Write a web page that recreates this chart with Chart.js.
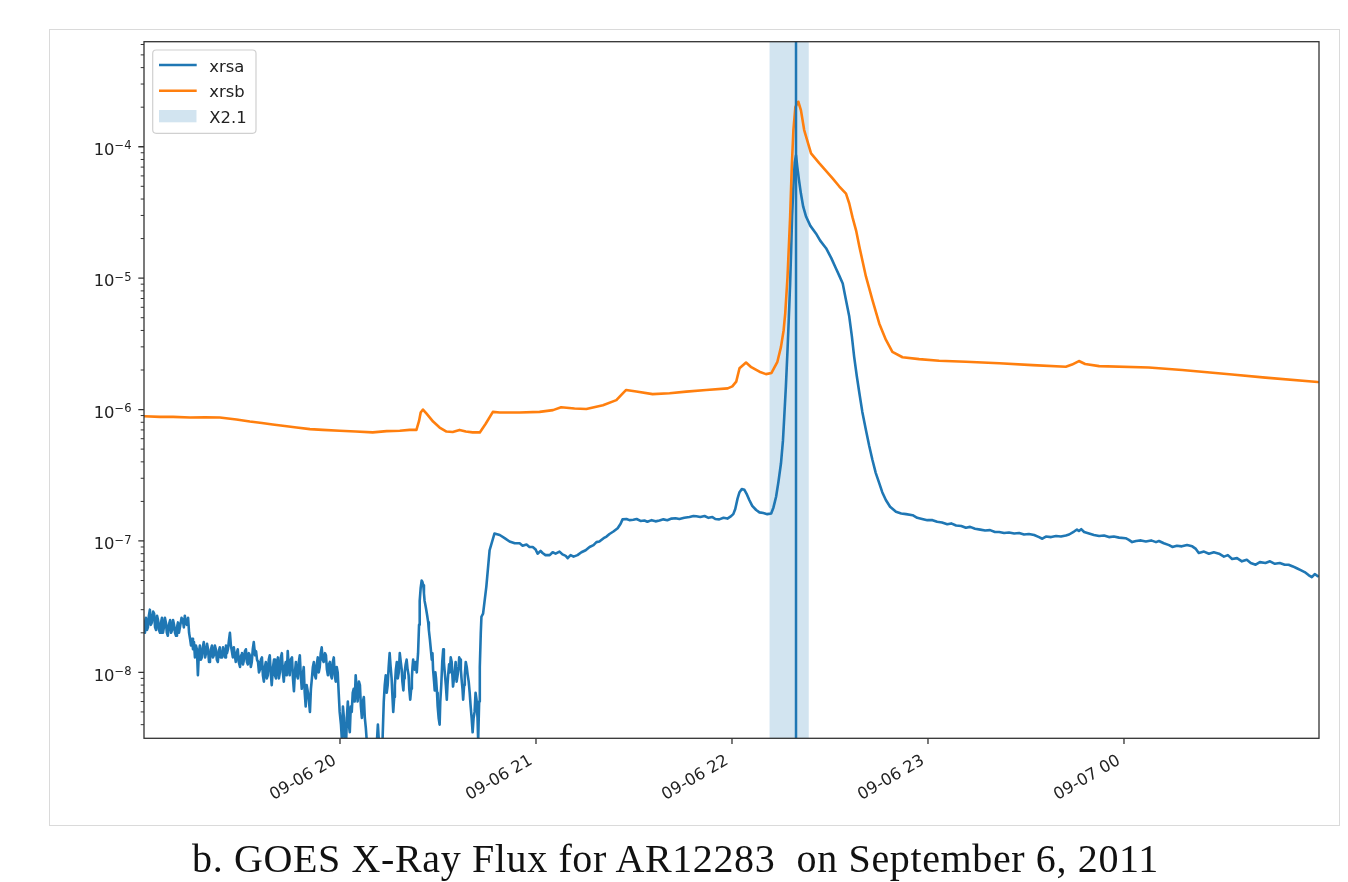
<!DOCTYPE html>
<html>
<head>
<meta charset="utf-8">
<title>GOES X-Ray Flux</title>
<script src="https://cdn.jsdelivr.net/npm/chart.js@4.4.1/dist/chart.umd.min.js"></script>
<style>
  body { margin: 0; background: #fff; }
  #wrap { position: relative; width: 1348px; height: 882px; overflow: hidden; }
  #frame { position: absolute; left: 49px; top: 29px; width: 1289px; height: 795px; border: 1px solid #dadada; }
  #myChart { position: absolute; left: 0; top: 0; }
  #caption { position: absolute; left: 192px; top: 839px; font: 40px "Liberation Serif", serif; line-height: 40px; color: #111; white-space: pre; }
</style>
</head>
<body>
<div id="wrap">
  <div id="frame"></div>
  <canvas id="myChart" width="1348" height="882"></canvas>
  <span id="caption">b. GOES X-Ray Flux for AR12283  on September 6, 2011</span>
</div>
<script>
// times are minutes after 2011-09-06 19:00 UT, flux in W/m^2
var xrsaMin = [
  0.0, 0.3, 0.6, 0.9, 1.2, 1.5, 1.8, 2.1, 2.4, 2.8,
  3.1, 3.4, 3.7, 4.0, 4.3, 4.6, 4.9, 5.2, 5.5, 5.8,
  6.1, 6.4, 6.7, 7.0, 7.3, 7.6, 8.0, 8.3, 8.6, 8.9,
  9.2, 9.5, 9.8, 10.1, 10.4, 10.7, 11.0, 11.5, 11.9, 12.2,
  12.5, 12.8, 13.1, 13.5, 13.8, 14.1, 14.4, 14.7, 15.0, 15.3,
  15.6, 15.9, 16.2, 16.5, 16.8, 17.1, 17.4, 17.7, 18.0, 18.3,
  18.7, 19.0, 19.3, 19.6, 19.9, 20.2, 20.5, 20.8, 21.1, 21.4,
  21.7, 22.0, 22.3, 22.6, 22.9, 23.2, 23.5, 23.9, 24.2, 24.5,
  24.8, 25.1, 25.4, 25.7, 26.0, 26.3, 26.6, 26.9, 27.2, 27.5,
  27.8, 28.1, 28.4, 28.7, 29.0, 29.4, 29.7, 30.0, 30.3, 30.6,
  30.9, 31.2, 31.5, 31.8, 32.1, 32.4, 32.7, 33.0, 33.3, 33.6,
  34.0, 34.3, 34.6, 34.9, 35.2, 35.5, 35.8, 36.1, 36.4, 36.7,
  37.0, 37.3, 37.6, 37.9, 38.2, 38.5, 38.8, 39.1, 39.5, 39.8,
  40.1, 40.4, 40.7, 41.0, 41.3, 41.6, 41.9, 42.2, 42.5, 42.8,
  43.1, 43.4, 43.7, 44.0, 44.3, 44.6, 44.9, 45.3, 45.6, 45.9,
  46.2, 46.5, 46.8, 47.1, 47.4, 47.7, 48.0, 48.3, 48.6, 48.9,
  49.2, 49.5, 49.8, 50.2, 50.5, 50.8, 51.1, 51.4, 51.7, 52.0,
  52.3, 52.6, 52.9, 53.2, 53.5, 53.8, 54.1, 54.4, 54.7, 55.0,
  55.4, 55.7, 56.0, 56.3, 56.6, 56.9, 57.2, 57.5, 57.8, 58.1,
  58.4, 58.7, 59.0, 59.3, 59.6, 59.9, 60.3, 60.6, 60.9, 61.2,
  61.5, 61.8, 62.1, 62.4, 62.7, 63.0, 63.3, 63.6, 63.9, 64.2,
  64.5, 64.8, 65.1, 65.4, 65.8, 66.1, 66.4, 66.7, 67.0, 67.3,
  67.6, 67.9, 68.2, 68.5, 68.8, 69.1, 69.7, 70.3, 70.9, 71.3,
  71.6, 71.9, 72.2, 72.8, 73.1, 73.4, 73.7, 74.0, 74.3, 74.6,
  74.9, 75.2, 75.5, 75.8, 76.0, 76.3, 76.6, 76.8, 77.1, 77.4,
  77.7, 78.0, 78.3, 78.6, 78.9, 79.1, 79.4, 79.6, 79.8, 80.1,
  80.4, 80.7, 81.0, 81.2, 81.5, 81.8, 82.0, 82.2, 82.4, 82.7,
  82.9, 83.2, 83.5, 83.7, 83.9, 84.2, 84.4, 84.7, 85.0, 85.2,
  85.5, 85.7, 85.9, 86.2, 86.4, 86.7, 87.0, 87.2, 87.5, 87.8,
  88.1, 88.3, 88.5, 88.8, 89.0, 89.2, 89.4, 89.7, 89.9, 90.2,
  90.5, 90.7, 91.0, 91.3, 91.6, 91.8, 92.0, 92.4, 92.7, 92.9,
  93.1, 93.4, 93.6, 93.9, 94.2, 94.4, 94.6, 94.9, 95.1, 95.4,
  95.7, 96.0, 96.3, 96.5, 96.8, 97.0, 97.2, 97.5, 97.7, 98.0,
  98.2, 98.5, 98.8, 99.1, 99.4, 99.7, 100.0, 100.3, 100.6, 100.9,
  101.2, 101.5, 101.8, 102.1, 102.3, 102.6, 102.8, 103.1, 103.3, 103.8,
  104.8, 105.8, 107.3, 108.9, 110.4, 111.9, 113.5, 115.0, 115.9, 117.1,
  118.0, 119.0, 119.9, 120.5, 121.4, 122.0, 122.9, 124.2, 125.1, 126.0,
  127.2, 128.1, 129.1, 129.7, 130.6, 131.5, 132.7, 133.9, 135.2, 136.4,
  137.6, 138.5, 139.4, 140.7, 141.6, 142.5, 143.7, 145.0, 145.9, 146.5,
  147.7, 148.6, 149.8, 150.8, 152.0, 153.2, 154.1, 155.4, 156.6, 157.8,
  159.0, 160.2, 161.5, 162.7, 163.9, 165.4, 167.0, 168.2, 169.1, 170.3,
  171.6, 172.8, 174.0, 174.9, 176.1, 177.4, 178.6, 179.5, 180.4, 181.0,
  181.7, 182.3, 183.0, 183.8, 184.6, 185.3, 186.2, 187.4, 188.4, 189.6,
  190.8, 192.0, 192.7, 193.5, 194.2, 195.0, 195.6, 196.0, 196.5, 197.0,
  197.4, 197.8, 198.1, 198.4, 198.8, 199.2, 199.6, 200.0, 200.5, 201.1,
  201.8, 202.7, 204.0, 205.7, 207.0, 208.8, 210.4, 211.8, 212.8, 213.9,
  214.8, 215.9, 216.7, 217.4, 218.2, 219.0, 219.9, 221.0, 222.0, 223.0,
  224.0, 225.1, 226.0, 227.1, 228.4, 230.2, 231.8, 233.3, 235.3, 236.7,
  238.2, 239.8, 241.4, 242.8, 244.3, 245.9, 247.1, 248.6, 250.2, 251.6,
  252.9, 254.4, 256.0, 257.5, 259.0, 260.5, 261.8, 263.3, 264.8, 266.4,
  267.9, 269.4, 270.9, 272.5, 274.0, 275.0, 276.1, 277.7, 279.2, 280.7,
  282.2, 283.2, 284.7, 285.6, 286.2, 286.9, 287.8, 289.3, 290.8, 292.4,
  293.9, 295.4, 296.9, 298.5, 300.5, 301.5, 302.5, 303.7, 305.2, 306.7,
  308.3, 309.8, 310.7, 312.2, 313.8, 314.8, 316.2, 317.7, 319.3, 320.9,
  322.0, 322.9, 324.5, 326.0, 327.5, 329.1, 330.6, 331.8, 333.1, 334.6,
  336.1, 337.6, 338.8, 340.3, 341.6, 343.3, 344.7, 346.2, 347.7, 349.2,
  350.4, 351.7, 352.9, 354.1, 355.3, 356.5, 357.5, 358.4, 359.3
];
var xrsaFlux = [
  2.0e-8, 2.4e-8, 2.6e-8, 2.1e-8, 2.2e-8, 2.7e-8, 3.0e-8, 2.3e-8, 2.4e-8, 2.9e-8,
  2.8e-8, 2.2e-8, 2.1e-8, 2.7e-8, 2.5e-8, 2.1e-8, 2.0e-8, 2.4e-8, 2.6e-8, 2.0e-8,
  2.2e-8, 2.6e-8, 2.4e-8, 2.0e-8, 1.9e-8, 2.3e-8, 2.5e-8, 2.0e-8, 2.1e-8, 2.5e-8,
  2.3e-8, 2.0e-8, 1.9e-8, 2.2e-8, 2.4e-8, 2.0e-8, 2.2e-8, 2.6e-8, 2.5e-8, 2.2e-8,
  2.7e-8, 2.4e-8, 2.3e-8, 2.6e-8, 2.0e-8, 1.8e-8, 1.6e-8, 1.8e-8, 1.5e-8, 1.7e-8,
  1.3e-8, 1.6e-8, 1.5e-8, 0.95e-8, 1.4e-8, 1.6e-8, 1.25e-8, 1.3e-8, 1.55e-8, 1.7e-8,
  1.3e-8, 1.4e-8, 1.65e-8, 1.5e-8, 1.2e-8, 1.25e-8, 1.5e-8, 1.6e-8, 1.3e-8, 1.35e-8,
  1.6e-8, 1.5e-8, 1.25e-8, 1.2e-8, 1.45e-8, 1.55e-8, 1.3e-8, 1.3e-8, 1.55e-8, 1.45e-8,
  1.3e-8, 1.6e-8, 1.4e-8, 1.5e-8, 1.75e-8, 2.0e-8, 1.6e-8, 1.45e-8, 1.3e-8, 1.55e-8,
  1.35e-8, 1.2e-8, 1.4e-8, 1.5e-8, 1.2e-8, 1.1e-8, 1.35e-8, 1.4e-8, 1.15e-8, 1.25e-8,
  1.45e-8, 1.5e-8, 1.2e-8, 1.15e-8, 1.4e-8, 1.35e-8, 1.1e-8, 1.2e-8, 1.5e-8, 1.7e-8,
  1.35e-8, 1.45e-8, 1.25e-8, 1.2e-8, 1.0e-8, 1.05e-8, 1.25e-8, 1.3e-8, 0.95e-8, 0.85e-8,
  1.1e-8, 1.2e-8, 0.9e-8, 0.95e-8, 1.25e-8, 1.35e-8, 1.0e-8, 0.8e-8, 1.1e-8, 1.25e-8,
  0.95e-8, 0.9e-8, 1.2e-8, 1.3e-8, 0.9e-8, 1.0e-8, 1.3e-8, 1.4e-8, 1.0e-8, 0.85e-8,
  1.1e-8, 1.2e-8, 0.95e-8, 1.45e-8, 1.1e-8, 0.95e-8, 1.25e-8, 1.3e-8, 0.9e-8, 0.72e-8,
  1.0e-8, 1.2e-8, 0.95e-8, 0.9e-8, 1.2e-8, 1.35e-8, 0.95e-8, 0.75e-8, 0.95e-8, 1.1e-8,
  0.7e-8, 0.55e-8, 0.8e-8, 0.7e-8, 0.6e-8, 0.5e-8, 0.75e-8, 0.9e-8, 1.1e-8, 1.2e-8,
  0.95e-8, 0.9e-8, 1.15e-8, 1.3e-8, 1.0e-8, 1.1e-8, 1.4e-8, 1.55e-8, 1.25e-8, 1.2e-8,
  1.4e-8, 1.35e-8, 1.05e-8, 0.95e-8, 1.15e-8, 1.2e-8, 0.95e-8, 0.9e-8, 1.2e-8, 1.3e-8,
  0.95e-8, 0.85e-8, 1.1e-8, 1.0e-8, 0.7e-8, 0.5e-8, 0.4e-8, 0.3e-8, 0.55e-8, 0.45e-8,
  0.3e-8, 0.25e-8, 0.45e-8, 0.6e-8, 0.4e-8, 0.35e-8, 0.55e-8, 0.5e-8, 0.7e-8, 0.75e-8,
  0.6e-8, 0.95e-8, 0.75e-8, 0.6e-8, 0.85e-8, 0.8e-8, 0.55e-8, 0.45e-8, 0.6e-8, 0.65e-8,
  0.45e-8, 0.38e-8, 0.3e-8, 0.25e-8, 0.22e-8, 0.2e-8, 0.2e-8, 0.28e-8, 0.2e-8, 0.3e-8,
  0.4e-8, 0.3e-8, 0.2e-8, 0.2e-8, 0.35e-8, 0.6e-8, 0.8e-8, 0.95e-8, 0.7e-8, 0.8e-8,
  1.1e-8, 1.4e-8, 1.1e-8, 0.9e-8, 0.7e-8, 0.5e-8, 0.65e-8, 0.8e-8, 1.05e-8, 1.2e-8,
  0.9e-8, 1.0e-8, 1.4e-8, 1.2e-8, 1.05e-8, 0.85e-8, 0.73e-8, 0.9e-8, 1.0e-8, 1.15e-8,
  1.25e-8, 1.05e-8, 0.95e-8, 0.75e-8, 0.62e-8, 0.75e-8, 0.9e-8, 1.1e-8, 1.25e-8, 1.1e-8,
  1.05e-8, 1.2e-8, 1.0e-8, 1.2e-8, 1.4e-8, 2.3e-8, 3.5e-8, 4.4e-8, 5.0e-8, 4.9e-8,
  4.6e-8, 4.0e-8, 3.5e-8, 3.2e-8, 3.0e-8, 2.7e-8, 2.4e-8, 2.1e-8, 1.8e-8, 1.5e-8,
  1.25e-8, 1.4e-8, 1.05e-8, 0.85e-8, 0.73e-8, 1.0e-8, 0.9e-8, 0.7e-8, 0.55e-8, 0.45e-8,
  0.4e-8, 0.6e-8, 0.8e-8, 1.2e-8, 1.5e-8, 1.2e-8, 1.05e-8, 0.8e-8, 0.62e-8, 0.8e-8,
  0.95e-8, 1.15e-8, 1.0e-8, 1.3e-8, 1.2e-8, 0.95e-8, 0.78e-8, 0.9e-8, 1.0e-8, 1.2e-8,
  0.85e-8, 0.95e-8, 1.1e-8, 1.3e-8, 1.25e-8, 1.05e-8, 0.9e-8, 0.75e-8, 0.62e-8, 0.8e-8,
  0.95e-8, 1.2e-8, 1.1e-8, 0.95e-8, 0.85e-8, 0.7e-8, 0.55e-8, 0.45e-8, 0.35e-8, 0.45e-8,
  0.5e-8, 0.7e-8, 0.62e-8, 0.45e-8, 0.3e-8, 0.6e-8, 1.1e-8, 2.0e-8, 2.65e-8, 2.8e-8,
  4.5e-8, 8.5e-8, 1.14e-7, 1.11e-7, 1.05e-7, 0.99e-7, 0.96e-7, 0.96e-7, 0.92e-7, 0.94e-7,
  0.9e-7, 0.9e-7, 0.86e-7, 0.8e-7, 0.84e-7, 0.81e-7, 0.78e-7, 0.78e-7, 0.82e-7, 0.8e-7,
  0.83e-7, 0.79e-7, 0.77e-7, 0.74e-7, 0.78e-7, 0.76e-7, 0.78e-7, 0.82e-7, 0.85e-7, 0.9e-7,
  0.93e-7, 0.98e-7, 0.99e-7, 1.05e-7, 1.08e-7, 1.13e-7, 1.18e-7, 1.25e-7, 1.35e-7, 1.46e-7,
  1.47e-7, 1.44e-7, 1.45e-7, 1.47e-7, 1.42e-7, 1.43e-7, 1.40e-7, 1.44e-7, 1.41e-7, 1.43e-7,
  1.46e-7, 1.44e-7, 1.48e-7, 1.49e-7, 1.47e-7, 1.50e-7, 1.52e-7, 1.55e-7, 1.54e-7, 1.52e-7,
  1.55e-7, 1.50e-7, 1.52e-7, 1.47e-7, 1.46e-7, 1.50e-7, 1.48e-7, 1.53e-7, 1.60e-7, 1.75e-7,
  2.1e-7, 2.35e-7, 2.48e-7, 2.45e-7, 2.25e-7, 2.05e-7, 1.85e-7, 1.72e-7, 1.65e-7, 1.63e-7,
  1.6e-7, 1.62e-7, 1.8e-7, 2.17e-7, 2.8e-7, 3.9e-7, 5.8e-7, 8.8e-7, 1.5e-6, 2.84e-6,
  5.0e-6, 9.1e-6, 1.6e-5, 2.93e-5, 5.0e-5, 7.6e-5, 8.6e-5, 7.0e-5, 5.6e-5, 4.4e-5,
  3.5e-5, 2.93e-5, 2.5e-5, 2.19e-5, 1.93e-5, 1.69e-5, 1.42e-5, 1.19e-5, 1.05e-5, 9.1e-6,
  7.0e-6, 5.1e-6, 3.6e-6, 2.52e-6, 1.8e-6, 1.33e-6, 9.6e-7, 7.0e-7, 5.3e-7, 4.13e-7,
  3.3e-7, 2.74e-7, 2.35e-7, 2.05e-7, 1.82e-7, 1.67e-7, 1.62e-7, 1.60e-7, 1.57e-7, 1.50e-7,
  1.47e-7, 1.44e-7, 1.44e-7, 1.40e-7, 1.38e-7, 1.34e-7, 1.36e-7, 1.31e-7, 1.30e-7, 1.26e-7,
  1.28e-7, 1.24e-7, 1.22e-7, 1.20e-7, 1.21e-7, 1.17e-7, 1.17e-7, 1.15e-7, 1.16e-7, 1.14e-7,
  1.15e-7, 1.12e-7, 1.13e-7, 1.11e-7, 1.07e-7, 1.04e-7, 1.08e-7, 1.07e-7, 1.09e-7, 1.08e-7,
  1.10e-7, 1.12e-7, 1.18e-7, 1.22e-7, 1.19e-7, 1.23e-7, 1.17e-7, 1.14e-7, 1.11e-7, 1.09e-7,
  1.10e-7, 1.07e-7, 1.08e-7, 1.06e-7, 1.05e-7, 1.02e-7, 0.98e-7, 1.0e-7, 1.01e-7, 0.99e-7,
  1.01e-7, 0.98e-7, 1.0e-7, 0.96e-7, 0.93e-7, 0.9e-7, 0.92e-7, 0.91e-7, 0.93e-7, 0.91e-7,
  0.87e-7, 0.81e-7, 0.83e-7, 0.80e-7, 0.82e-7, 0.80e-7, 0.76e-7, 0.78e-7, 0.73e-7, 0.74e-7,
  0.70e-7, 0.72e-7, 0.68e-7, 0.66e-7, 0.69e-7, 0.68e-7, 0.70e-7, 0.67e-7, 0.68e-7, 0.66e-7,
  0.66e-7, 0.64e-7, 0.62e-7, 0.60e-7, 0.58e-7, 0.55e-7, 0.53e-7, 0.56e-7, 0.54e-7
];
var xrsbMin = [
  0.0, 4.9, 8.9, 14.1, 18.7, 23.2, 28.3, 32.4, 36.1, 39.4,
  43.1, 46.7, 50.8, 54.7, 59.9, 64.8, 70.0, 74.3, 78.3, 81.3,
  83.4, 84.2, 84.7, 85.4, 86.5, 88.5, 90.5, 92.6, 94.5, 96.6,
  98.5, 100.6, 102.8, 104.6, 106.8, 108.9, 110.9, 115.0, 121.1, 125.2,
  127.7, 131.8, 135.4, 140.5, 144.6, 146.2, 147.6, 150.7, 155.7, 160.9,
  166.0, 172.1, 178.7, 180.1, 181.3, 182.3, 184.3, 185.9, 188.4, 190.4,
  192.1, 193.9, 195.0, 195.8, 196.3, 197.0, 197.8, 198.3, 198.8, 199.4,
  200.3, 201.1, 202.1, 204.2, 206.7, 210.8, 212.8, 214.9, 215.9, 216.9,
  218.0, 219.0, 221.0, 223.0, 225.1, 227.1, 229.1, 232.2, 237.3, 243.4,
  251.6, 261.8, 272.0, 282.2, 284.1, 286.2, 288.1, 292.4, 307.6, 317.8,
  333.1, 343.3, 359.3
];
var xrsbFlux = [
  8.9e-7, 8.8e-7, 8.8e-7, 8.7e-7, 8.75e-7, 8.7e-7, 8.4e-7, 8.1e-7, 7.9e-7, 7.7e-7,
  7.5e-7, 7.3e-7, 7.1e-7, 7.0e-7, 6.9e-7, 6.8e-7, 6.7e-7, 6.85e-7, 6.9e-7, 7.0e-7,
  7.0e-7, 8.2e-7, 9.5e-7, 1.0e-6, 9.3e-7, 8.1e-7, 7.3e-7, 6.8e-7, 6.75e-7, 7.0e-7,
  6.8e-7, 6.7e-7, 6.7e-7, 7.8e-7, 9.6e-7, 9.5e-7, 9.5e-7, 9.5e-7, 9.6e-7, 9.9e-7,
  1.04e-6, 1.02e-6, 1.01e-6, 1.08e-6, 1.18e-6, 1.3e-6, 1.41e-6, 1.37e-6, 1.31e-6, 1.33e-6,
  1.37e-6, 1.41e-6, 1.45e-6, 1.5e-6, 1.63e-6, 2.06e-6, 2.28e-6, 2.1e-6, 1.94e-6, 1.86e-6,
  1.9e-6, 2.31e-6, 3.0e-6, 4.0e-6, 5.4e-6, 1.02e-5, 2.93e-5, 7.0e-5, 1.34e-4, 2.0e-4,
  2.2e-4, 1.9e-4, 1.34e-4, 8.9e-5, 7.5e-5, 5.75e-5, 5.0e-5, 4.4e-5, 3.7e-5, 2.9e-5,
  2.3e-5, 1.73e-5, 1.03e-5, 6.8e-6, 4.5e-6, 3.4e-6, 2.75e-6, 2.5e-6, 2.42e-6, 2.35e-6,
  2.31e-6, 2.25e-6, 2.18e-6, 2.12e-6, 2.2e-6, 2.34e-6, 2.22e-6, 2.14e-6, 2.09e-6, 2.0e-6,
  1.85e-6, 1.75e-6, 1.62e-6
];

// X2.1 flare: start, end and peak (minutes after 19:00)
var flareLabel = "X2.1";
var flareSpan = [191.5, 203.5];
var flarePeak = 199.6;

var xTickMinutes = [60, 120, 180, 240, 300];
var xTickLabels = ["09-06 20", "09-06 21", "09-06 22", "09-06 23", "09-07 00"];
var yTickValues = [1e-8, 1e-7, 1e-6, 1e-5, 1e-4];
var yTickExps = ["\u22128", "\u22127", "\u22126", "\u22125", "\u22124"];

var C0 = "#1f77b4";
var C1 = "#ff7f0e";
var SPAN = "rgba(31,119,180,0.2)";
var FONT = "16.4px 'DejaVu Sans'";
var TEXT = "#222";

function pairs(xs, ys) {
  return xs.map(function (t, i) { return { x: t, y: ys[i] }; });
}

var axesDecor = {
  id: "axesDecor",
  beforeDatasetsDraw: function (chart) {
    var ctx = chart.ctx, a = chart.chartArea, x = chart.scales.x;
    var x0 = x.getPixelForValue(flareSpan[0]);
    var x1 = x.getPixelForValue(flareSpan[1]);
    ctx.save();
    ctx.fillStyle = SPAN;
    ctx.fillRect(x0, a.top, x1 - x0, a.bottom - a.top);
    ctx.restore();
  },
  afterDatasetsDraw: function (chart) {
    var ctx = chart.ctx, a = chart.chartArea;
    var x = chart.scales.x, y = chart.scales.y;
    ctx.save();

    // peak marker
    var xp = x.getPixelForValue(flarePeak);
    ctx.strokeStyle = C0;
    ctx.lineWidth = 2.5;
    ctx.beginPath();
    ctx.moveTo(xp, a.top);
    ctx.lineTo(xp, a.bottom);
    ctx.stroke();

    // spines
    ctx.strokeStyle = "#333";
    ctx.lineWidth = 1.3;
    ctx.strokeRect(a.left, a.top, a.right - a.left, a.bottom - a.top);

    // y ticks: minors first, then majors
    var e, k, v, py;
    ctx.beginPath();
    for (e = -9; e <= -4; e++) {
      for (k = 2; k <= 9; k++) {
        v = k * Math.pow(10, e);
        if (v < y.min || v > y.max) continue;
        py = y.getPixelForValue(v);
        ctx.moveTo(a.left, py);
        ctx.lineTo(a.left - 3.3, py);
      }
    }
    ctx.lineWidth = 1;
    ctx.stroke();
    ctx.beginPath();
    yTickValues.forEach(function (val) {
      py = y.getPixelForValue(val);
      ctx.moveTo(a.left, py);
      ctx.lineTo(a.left - 5.7, py);
    });
    xTickMinutes.forEach(function (t) {
      var px = x.getPixelForValue(t);
      ctx.moveTo(px, a.bottom);
      ctx.lineTo(px, a.bottom + 5.7);
    });
    ctx.lineWidth = 1.3;
    ctx.stroke();

    // y labels as 10^n
    ctx.fillStyle = TEXT;
    ctx.textBaseline = "alphabetic";
    ctx.textAlign = "left";
    yTickValues.forEach(function (val, i) {
      py = y.getPixelForValue(val);
      ctx.font = "11.5px 'DejaVu Sans'";
      var wExp = ctx.measureText(yTickExps[i]).width;
      ctx.font = FONT;
      var wBase = ctx.measureText("10").width;
      var right = a.left - 12.5;
      ctx.fillText("10", right - wExp - wBase, py + 8.3);
      ctx.font = "11.5px 'DejaVu Sans'";
      ctx.fillText(yTickExps[i], right - wExp, py + 2.6);
    });

    // x labels rotated 30 degrees
    ctx.font = FONT;
    ctx.textAlign = "right";
    xTickMinutes.forEach(function (t, i) {
      var px = x.getPixelForValue(t);
      ctx.save();
      ctx.translate(px - 2.6, a.bottom + 25);
      ctx.rotate(-Math.PI / 6);
      ctx.fillText(xTickLabels[i], 0, 0);
      ctx.restore();
    });

    // legend box
    var lx = a.left + 8.7, ly = a.top + 8.3, lw = 103.3, lh = 83.3, r = 3.5;
    ctx.beginPath();
    ctx.moveTo(lx + r, ly);
    ctx.arcTo(lx + lw, ly, lx + lw, ly + lh, r);
    ctx.arcTo(lx + lw, ly + lh, lx, ly + lh, r);
    ctx.arcTo(lx, ly + lh, lx, ly, r);
    ctx.arcTo(lx, ly, lx + lw, ly, r);
    ctx.closePath();
    ctx.fillStyle = "rgba(255,255,255,0.8)";
    ctx.fill();
    ctx.strokeStyle = "#d0d0d0";
    ctx.lineWidth = 1.2;
    ctx.stroke();

    var ds = chart.data.datasets;
    var rows = [a.top + 23.3, a.top + 49];
    ctx.lineWidth = 2.6;
    ds.forEach(function (d, i) {
      ctx.strokeStyle = d.borderColor;
      ctx.beginPath();
      ctx.moveTo(a.left + 15, rows[i]);
      ctx.lineTo(a.left + 52.7, rows[i]);
      ctx.stroke();
    });
    ctx.fillStyle = SPAN;
    ctx.fillRect(a.left + 15, a.top + 68.3, 37.5, 12.3);

    ctx.fillStyle = TEXT;
    ctx.font = FONT;
    ctx.textAlign = "left";
    ctx.fillText(ds[0].label, a.left + 65.3, a.top + 30);
    ctx.fillText(ds[1].label, a.left + 65.3, a.top + 55.6);
    ctx.fillText(flareLabel, a.left + 65.3, a.top + 81.1);

    ctx.restore();
  }
};

window.onload = function () {
  var ctx = document.getElementById("myChart").getContext("2d");
  var myChart = new Chart(ctx, {
    type: "line",
    data: {
      datasets: [
        { label: "xrsa", data: pairs(xrsaMin, xrsaFlux), borderColor: C0, borderWidth: 2.6, order: 1 },
        { label: "xrsb", data: pairs(xrsbMin, xrsbFlux), borderColor: C1, borderWidth: 2.6, order: 0 }
      ]
    },
    options: {
      responsive: false,
      animation: false,
      devicePixelRatio: 1,
      layout: { padding: { left: 0, top: 41.7, right: 29, bottom: 83.7 } },
      elements: {
        point: { radius: 0 },
        line: { tension: 0, borderJoinStyle: "round", borderCapStyle: "round", fill: false }
      },
      plugins: { legend: { display: false }, tooltip: { enabled: false } },
      scales: {
        x: {
          type: "linear", min: 0, max: 359.7,
          grid: { display: false }, border: { display: false }, ticks: { display: false },
          afterBuildTicks: function (s) { s.ticks = xTickMinutes.map(function (t) { return { value: t }; }); },
          afterFit: function (s) { s.height = 60; }
        },
        y: {
          type: "logarithmic", min: 3.15e-9, max: 6.3e-4,
          grid: { display: false }, border: { display: false }, ticks: { display: false },
          afterBuildTicks: function (s) { s.ticks = yTickValues.map(function (v) { return { value: v }; }); },
          afterFit: function (s) { s.width = 144; }
        }
      }
    },
    plugins: [axesDecor]
  });

  // stretch the caption to the width it has in the figure
  var cap = document.getElementById("caption");
  var w = cap.getBoundingClientRect().width;
  var n = cap.textContent.length;
  cap.style.letterSpacing = ((966 - w) / (n - 1)).toFixed(2) + "px";
};
</script>
</body>
</html>
